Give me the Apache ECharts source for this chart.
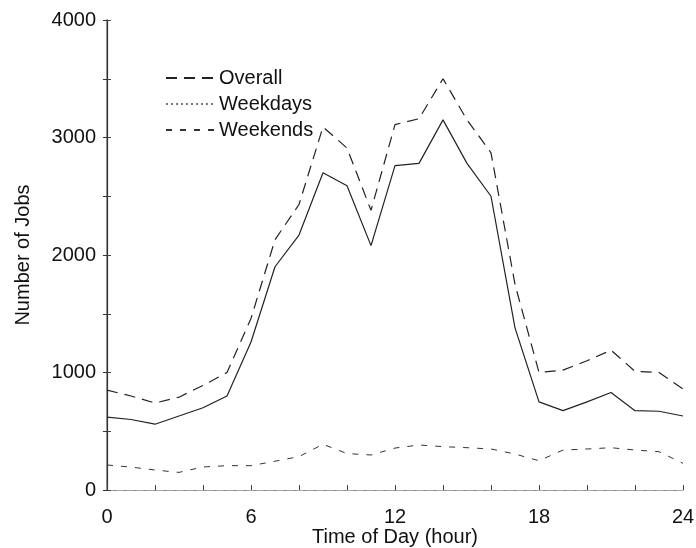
<!DOCTYPE html>
<html>
<head>
<meta charset="utf-8">
<script src="https://cdn.jsdelivr.net/npm/echarts@6/dist/echarts.min.js"></script>
<style>
  html, body { margin: 0; padding: 0; background: #fff; }
  #chart { width: 696px; height: 548px; }
</style>
</head>
<body>
<div id="chart"></div>
<script>
// hour of day, 0..24
const hours = [0, 1, 2, 3, 4, 5, 6, 7, 8, 9, 10, 11, 12, 13, 14, 15, 16, 17, 18, 19, 20, 21, 22, 23, 24];

const overall = [850, 800, 740, 790, 890, 1000, 1460, 2130, 2430, 3090, 2910, 2380, 3110, 3160, 3500, 3150, 2870, 1750, 1000, 1020, 1100, 1190, 1010, 1000, 860];
const weekdays = [620, 600, 560, 630, 700, 800, 1260, 1900, 2170, 2700, 2590, 2080, 2760, 2780, 3150, 2780, 2500, 1380, 750, 675, 750, 830, 675, 670, 630];
const weekends = [213, 195, 170, 150, 196, 207, 207, 245, 284, 389, 310, 298, 357, 383, 369, 360, 349, 306, 249, 340, 349, 360, 340, 326, 227];

const xTicks = [0, 6, 12, 18, 24];
const yTicks = [0, 1000, 2000, 3000, 4000];

const font = "'Liberation Sans', Arial, sans-serif";
const chart = echarts.init(document.getElementById("chart"));

const pairs = (vals) => hours.map((h, i) => [h, vals[i]]);

chart.setOption({
  animation: false,
  grid: { left: 107, right: 13, top: 20, bottom: 58, show: false, outerBoundsMode: "none", containLabel: false },
  legend: {
    orient: "vertical",
    left: 160,
    top: 63,
    itemWidth: 48,
    itemHeight: 14,
    itemGap: 6,
    itemStyle: { opacity: 0 },
    textStyle: { fontFamily: font, fontSize: 20, color: "#111" },
    data: [
      { name: "Overall" },
      { name: "Weekdays", lineStyle: { type: [2, 3], color: "#777" } },
      { name: "Weekends" },
    ],
  },
  xAxis: [
    {
      type: "value",
      min: 0,
      max: 24,
      interval: 2,
      name: "Time of Day (hour)",
      nameLocation: "middle",
      nameGap: 37,
      nameMoveOverlap: false,
      nameTextStyle: { fontFamily: font, fontSize: 20, color: "#111" },
      axisLine: { lineStyle: { color: "#888", width: 1 } },
      axisTick: { inside: true, length: 5, lineStyle: { color: "#444" } },
      axisLabel: {
        fontFamily: font,
        fontSize: 20,
        color: "#111",
        margin: 17,
        formatter: (v) => (xTicks.includes(v) ? String(v) : ""),
      },
      splitLine: { show: false },
    },
    {
      type: "value",
      position: "top",
      min: 0,
      max: 24,
      interval: 2,
      axisLine: { show: true, lineStyle: { color: "#aaa", type: [6, 4] } },
      axisTick: { show: false },
      axisLabel: { show: false },
      splitLine: { show: false },
    },
  ],
  yAxis: [
    {
      type: "value",
      min: 0,
      max: 4000,
      interval: 500,
      name: "Number of Jobs",
      nameLocation: "middle",
      nameGap: 74,
      nameMoveOverlap: false,
      nameTextStyle: { fontFamily: font, fontSize: 20, color: "#111" },
      axisLine: { show: true, lineStyle: { color: "#777", width: 1.5 } },
      axisTick: { show: true, inside: true, length: 4, lineStyle: { color: "#444" } },
      axisLabel: {
        fontFamily: font,
        fontSize: 20,
        color: "#111",
        margin: 11,
        formatter: (v) => (yTicks.includes(v) ? String(v) : ""),
      },
      splitLine: { show: false },
    },
    {
      type: "value",
      position: "right",
      min: 0,
      max: 4000,
      interval: 500,
      axisLine: { show: true, lineStyle: { color: "#333", width: 1.2 } },
      axisTick: { show: true, inside: true, length: 4, lineStyle: { color: "#333" } },
      axisLabel: { show: false },
      splitLine: { show: false },
    },
  ],
  series: [
    {
      name: "Overall",
      type: "line",
      data: pairs(overall),
      showSymbol: false,
      symbol: "none",
      lineStyle: { color: "#222", width: 1.2, type: [11, 7] },
      itemStyle: { color: "#222" },
    },
    {
      name: "Weekdays",
      type: "line",
      data: pairs(weekdays),
      showSymbol: false,
      symbol: "none",
      lineStyle: { color: "#222", width: 1.2, type: "solid" },
      itemStyle: { color: "#222" },
    },
    {
      name: "Weekends",
      type: "line",
      data: pairs(weekends),
      showSymbol: false,
      symbol: "none",
      lineStyle: { color: "#333", width: 1, type: [6, 8] },
      itemStyle: { color: "#333" },
    },
  ],
});
</script>
</body>
</html>
